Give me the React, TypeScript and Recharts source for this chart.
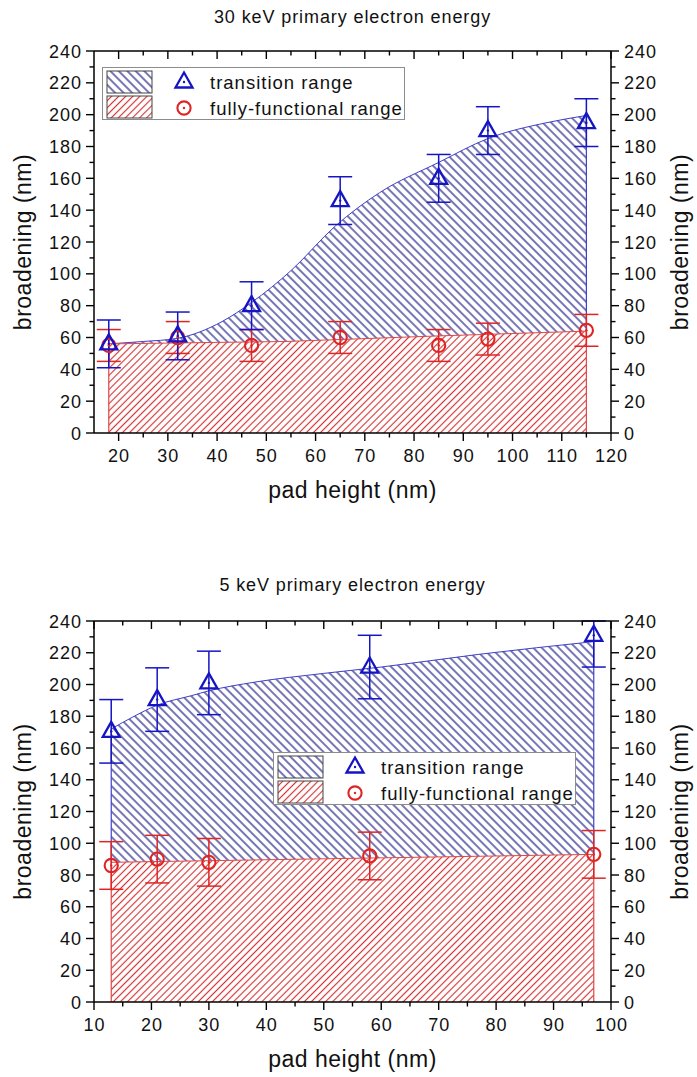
import React from 'react';
import {
  ComposedChart,
  Area,
  Scatter,
  ErrorBar,
  XAxis,
  YAxis,
  ReferenceLine,
  Legend,
  Label,
} from 'recharts';

// ---- 30 keV panel ----
const padHeight30 = [18, 32, 47, 65, 85, 95, 115];
const transition30 = [56, 61, 80, 146, 160, 190, 195];
const transitionErr30 = [15, 15, 15, 15, 15, 15, 15];
const functional30 = [55, 60, 55, 60, 55, 59, 64.5];
const functionalErr30 = [10, 10, 10, 10, 10, 10, 10];
// fitted envelopes
const transFitX30 = [18, 25, 32, 41, 47, 55, 64, 73, 85, 95, 107, 115];
const transFitY30 = [56, 57.5, 59.5, 70, 82, 102, 130, 151, 170, 185, 195, 199.5];
const funcFitX30 = [18, 54, 85, 115];
const funcFitY30 = [56, 57.5, 61, 64];
const xTicks30 = [20, 25, 30, 35, 40, 45, 50, 55, 60, 65, 70, 75, 80, 85, 90, 95, 100, 105, 110, 115, 120];
const xLabels30 = [20, 30, 40, 50, 60, 70, 80, 90, 100, 110, 120];

// ---- 5 keV panel ----
const padHeight5 = [13, 21, 30, 58, 97];
const transition5 = [170.5, 190.5, 201, 211, 231];
// [minus, plus]; the last bar runs into the top frame at 240
const transitionErr5 = [[20, 20], [20, 20], [20, 20], [20, 20], [20, 9]];
const functional5 = [86, 90, 88, 92, 93];
const functionalErr5 = [15, 15, 15, 15, 15];
const transFitX5 = [13, 17, 21, 27, 30, 38, 50, 60, 77, 97];
const transFitY5 = [172, 180, 187, 193, 196, 201.5, 207, 211, 219, 227];
const funcFitX5 = [13, 97];
const funcFitY5 = [88, 93];
const xTicks5 = [10, 15, 20, 25, 30, 35, 40, 45, 50, 55, 60, 65, 70, 75, 80, 85, 90, 95, 100];
const xLabels5 = [10, 20, 30, 40, 50, 60, 70, 80, 90, 100];

// shared y axis
const yTicks = [0, 10, 20, 30, 40, 50, 60, 70, 80, 90, 100, 110, 120, 130, 140, 150, 160, 170, 180, 190, 200, 210, 220, 230, 240];
const yLabels = [0, 20, 40, 60, 80, 100, 120, 140, 160, 180, 200, 220, 240];
const legendNames = ['transition range', 'fully-functional range'];

const FONT = '"Liberation Sans", Arial, Helvetica, sans-serif';
const BLUE = '#1515c4';
const RED = '#e02424';
const BLUE_HATCH = '#24248a';
const BLUE_EDGE = '#3f3fc8';
const RED_HATCH = '#d43636';
const RED_EDGE = '#e04848';

const tickStyle = { fontFamily: FONT, fontSize: 18, letterSpacing: 1, fill: '#111' };
const labelStyle = { fontFamily: FONT, fontSize: 23, letterSpacing: 0.5, fill: '#111' };

const zip = (xs: number[], ys: number[], es?: any[]) =>
  xs.map((x, i) => ({ x, y: ys[i], err: es ? es[i] : 0 }));

function axisTick(side: 'left' | 'right' | 'bottom' | 'top', labels: number[]) {
  return function TickMark(props: any) {
    const { x, y, payload } = props;
    const v = payload?.value;
    const major = labels.includes(v);
    const len = major ? 8 : 4.5;
    const sw = 1.4;
    if (side === 'left') {
      return (
        <g>
          <line x1={x - len} y1={y} x2={x} y2={y} stroke="#000" strokeWidth={sw} />
          {major && (
            <text x={x - 12} y={y + 6.5} textAnchor="end" style={tickStyle}>
              {v}
            </text>
          )}
        </g>
      );
    }
    if (side === 'right') {
      return (
        <g>
          <line x1={x} y1={y} x2={x + len} y2={y} stroke="#000" strokeWidth={sw} />
          {major && (
            <text x={x + 13} y={y + 6.5} textAnchor="start" style={tickStyle}>
              {v}
            </text>
          )}
        </g>
      );
    }
    if (side === 'bottom') {
      return (
        <g>
          <line x1={x} y1={y} x2={x} y2={y + len} stroke="#000" strokeWidth={sw} />
          {major && (
            <text x={x + 0.5} y={y + 29} textAnchor="middle" style={tickStyle}>
              {v}
            </text>
          )}
        </g>
      );
    }
    return <line x1={x} y1={y} x2={x} y2={y + len} stroke="#000" strokeWidth={sw} />;
  };
}

function TriangleMark(props: any) {
  const { cx, cy } = props;
  if (cx == null || cy == null) return null;
  return (
    <g>
      <path
        d={`M${cx},${cy - 9.5} L${cx + 8.5},${cy + 5.5} L${cx - 8.5},${cy + 5.5} Z`}
        fill="none"
        stroke={BLUE}
        strokeWidth={2.3}
      />
      <circle cx={cx} cy={cy} r={1.2} fill={BLUE} />
    </g>
  );
}

function CircleMark(props: any) {
  const { cx, cy } = props;
  if (cx == null || cy == null) return null;
  return (
    <g>
      <circle cx={cx} cy={cy} r={6.6} fill="none" stroke={RED} strokeWidth={2.1} />
      <circle cx={cx} cy={cy} r={1.2} fill={RED} />
    </g>
  );
}

function HatchDefs({ id }: { id: string }) {
  return (
    <defs>
      <pattern id={`${id}-blue`} patternUnits="userSpaceOnUse" width={6} height={6} patternTransform="rotate(-45)">
        <line x1={3} y1={0} x2={3} y2={6} stroke={BLUE_HATCH} strokeWidth={1.25} />
      </pattern>
      <pattern id={`${id}-red`} patternUnits="userSpaceOnUse" width={5} height={5} patternTransform="rotate(45)">
        <rect x={0} y={0} width={5} height={5} fill="#fff" />
        <line x1={2.5} y1={0} x2={2.5} y2={5} stroke={RED_HATCH} strokeWidth={1.15} />
      </pattern>
    </defs>
  );
}

function PanelLegend({ id }: { id: string }) {
  return (
    <svg width={303} height={53} style={{ display: 'block', overflow: 'visible' }}>
      <rect x={0.5} y={0.5} width={302} height={52} fill="#fff" stroke="#8c8c8c" strokeWidth={1} />
      <rect x={5} y={4} width={45} height={22} fill={`url(#${id}-blue)`} stroke="#444" strokeWidth={1} />
      <rect x={5} y={29} width={45} height={22} fill={`url(#${id}-red)`} stroke="#444" strokeWidth={1} />
      <TriangleMark cx={82} cy={15} />
      <CircleMark cx={82} cy={41} />
      <text x={108} y={22} style={{ ...tickStyle, fontSize: 18.5 }}>
        {legendNames[0]}
      </text>
      <text x={108} y={47.5} style={{ ...tickStyle, fontSize: 18.5 }}>
        {legendNames[1]}
      </text>
    </svg>
  );
}

type PanelProps = {
  id: string;
  title: string;
  top: number;
  titleTop: number;
  height: number;
  marginTop: number;
  xDomain: [number, number];
  xTicks: number[];
  xLabels: number[];
  xs: number[];
  trans: number[];
  transErr: any[];
  func: number[];
  funcErr: any[];
  tfx: number[];
  tfy: number[];
  ffx: number[];
  ffy: number[];
  legendLeft: number;
  legendTop: number;
};

function Panel(p: PanelProps) {
  const transPts = zip(p.xs, p.trans, p.transErr);
  const funcPts = zip(p.xs, p.func, p.funcErr);
  const transFit = zip(p.tfx, p.tfy);
  const funcFit = zip(p.ffx, p.ffy);
  const n = p.tfx.length - 1;
  const m = p.ffx.length - 1;

  return (
    <>
      <div
        style={{
          position: 'absolute',
          left: 0,
          top: p.titleTop,
          width: 705,
          textAlign: 'center',
          fontFamily: FONT,
          fontSize: 18,
          letterSpacing: 0.9,
          lineHeight: '20px',
          color: '#111',
        }}
      >
        {p.title}
      </div>
      <div style={{ position: 'absolute', left: 0, top: p.top }}>
        <ComposedChart width={697} height={p.height} margin={{ top: p.marginTop, right: 0, bottom: 0, left: 0 }}>
          <HatchDefs id={p.id} />
          <XAxis
            xAxisId="b"
            dataKey="x"
            type="number"
            domain={p.xDomain}
            allowDataOverflow
            ticks={p.xTicks}
            interval={0}
            height={75}
            tickSize={0}
            tickMargin={0}
            tickLine={false}
            tick={axisTick('bottom', p.xLabels)}
            axisLine={{ stroke: '#000', strokeWidth: 1.5 }}
          >
            <Label
              content={(lp: any) => {
                const vb = lp.viewBox || {};
                return (
                  <text x={vb.x + vb.width / 2} y={vb.y + 65} textAnchor="middle" style={labelStyle}>
                    pad height (nm)
                  </text>
                );
              }}
            />
          </XAxis>
          <XAxis
            xAxisId="t"
            orientation="top"
            dataKey="x"
            type="number"
            domain={p.xDomain}
            allowDataOverflow
            ticks={p.xTicks}
            interval={0}
            height={1}
            tickSize={0}
            tickMargin={0}
            tickLine={false}
            tick={axisTick('top', p.xLabels)}
            axisLine={{ stroke: '#000', strokeWidth: 1.5 }}
          />
          <YAxis
            yAxisId="l"
            type="number"
            domain={[0, 240]}
            allowDataOverflow
            ticks={yTicks}
            interval={0}
            width={94}
            tickSize={0}
            tickMargin={0}
            tickLine={false}
            tick={axisTick('left', yLabels)}
            axisLine={{ stroke: '#000', strokeWidth: 1.5 }}
          >
            <Label
              content={(lp: any) => {
                const vb = lp.viewBox || {};
                const cy = vb.y + vb.height / 2;
                return (
                  <text x={31} y={cy} transform={`rotate(-90 31 ${cy})`} textAnchor="middle" style={labelStyle}>
                    broadening (nm)
                  </text>
                );
              }}
            />
          </YAxis>
          <YAxis
            yAxisId="r"
            orientation="right"
            type="number"
            domain={[0, 240]}
            allowDataOverflow
            ticks={yTicks}
            interval={0}
            width={86}
            tickSize={0}
            tickMargin={0}
            tickLine={false}
            tick={axisTick('right', yLabels)}
            axisLine={{ stroke: '#000', strokeWidth: 1.5 }}
          >
            <Label
              content={(lp: any) => {
                const vb = lp.viewBox || {};
                const cy = vb.y + vb.height / 2;
                return (
                  <text x={688} y={cy} transform={`rotate(-90 688 ${cy})`} textAnchor="middle" style={labelStyle}>
                    broadening (nm)
                  </text>
                );
              }}
            />
          </YAxis>

          <Area
            xAxisId="b"
            yAxisId="l"
            data={transFit}
            dataKey="y"
            type="monotone"
            baseValue={0}
            stroke={BLUE_EDGE}
            strokeWidth={1}
            fill={`url(#${p.id}-blue)`}
            fillOpacity={1}
            dot={false}
            activeDot={false}
            isAnimationActive={false}
          />
          <Area
            xAxisId="b"
            yAxisId="l"
            data={funcFit}
            dataKey="y"
            type="linear"
            baseValue={0}
            stroke={RED_EDGE}
            strokeWidth={1}
            fill={`url(#${p.id}-red)`}
            fillOpacity={1}
            dot={false}
            activeDot={false}
            isAnimationActive={false}
          />
          {/* vertical edges of the shaded regions */}
          <ReferenceLine
            xAxisId="b"
            yAxisId="l"
            segment={[{ x: p.tfx[0], y: p.ffy[0] }, { x: p.tfx[0], y: p.tfy[0] }]}
            stroke={BLUE_EDGE}
            strokeWidth={1.2}
          />
          <ReferenceLine
            xAxisId="b"
            yAxisId="l"
            segment={[{ x: p.tfx[n], y: p.ffy[m] }, { x: p.tfx[n], y: p.tfy[n] }]}
            stroke={BLUE_EDGE}
            strokeWidth={1.2}
          />
          <ReferenceLine
            xAxisId="b"
            yAxisId="l"
            segment={[{ x: p.ffx[0], y: 0 }, { x: p.ffx[0], y: p.ffy[0] }]}
            stroke={RED_EDGE}
            strokeWidth={1.2}
          />
          <ReferenceLine
            xAxisId="b"
            yAxisId="l"
            segment={[{ x: p.ffx[m], y: 0 }, { x: p.ffx[m], y: p.ffy[m] }]}
            stroke={RED_EDGE}
            strokeWidth={1.2}
          />

          <Scatter
            xAxisId="b"
            yAxisId="l"
            data={funcPts}
            dataKey="y"
            shape={(sp: any) => <CircleMark {...sp} />}
            isAnimationActive={false}
          >
            <ErrorBar dataKey="err" direction="y" width={12} stroke={RED} strokeWidth={1.5} />
          </Scatter>
          <Scatter
            xAxisId="b"
            yAxisId="l"
            data={transPts}
            dataKey="y"
            shape={(sp: any) => <TriangleMark {...sp} />}
            isAnimationActive={false}
          >
            <ErrorBar dataKey="err" direction="y" width={12} stroke={BLUE} strokeWidth={1.5} />
          </Scatter>

          <Legend
            verticalAlign="middle"
            align="center"
            layout="horizontal"
            wrapperStyle={{ position: 'absolute', left: p.legendLeft, top: p.legendTop, width: 303, height: 53 }}
            content={() => <PanelLegend id={p.id} />}
          />
        </ComposedChart>
      </div>
    </>
  );
}

export default function App() {
  return (
    <div style={{ position: 'absolute', left: 0, top: 0, width: 697, height: 1077, background: '#fff' }}>
      <Panel
        id="p30"
        title="30 keV primary electron energy"
        titleTop={7}
        top={0}
        height={508}
        marginTop={50}
        xDomain={[15, 120]}
        xTicks={xTicks30}
        xLabels={xLabels30}
        xs={padHeight30}
        trans={transition30}
        transErr={transitionErr30}
        func={functional30}
        funcErr={functionalErr30}
        tfx={transFitX30}
        tfy={transFitY30}
        ffx={funcFitX30}
        ffy={funcFitY30}
        legendLeft={102}
        legendTop={67}
      />
      <Panel
        id="p5"
        title="5 keV primary electron energy"
        titleTop={575}
        top={560}
        height={517}
        marginTop={60}
        xDomain={[10, 100]}
        xTicks={xTicks5}
        xLabels={xLabels5}
        xs={padHeight5}
        trans={transition5}
        transErr={transitionErr5}
        func={functional5}
        funcErr={functionalErr5}
        tfx={transFitX5}
        tfy={transFitY5}
        ffx={funcFitX5}
        ffy={funcFitY5}
        legendLeft={273}
        legendTop={192}
      />
    </div>
  );
}
